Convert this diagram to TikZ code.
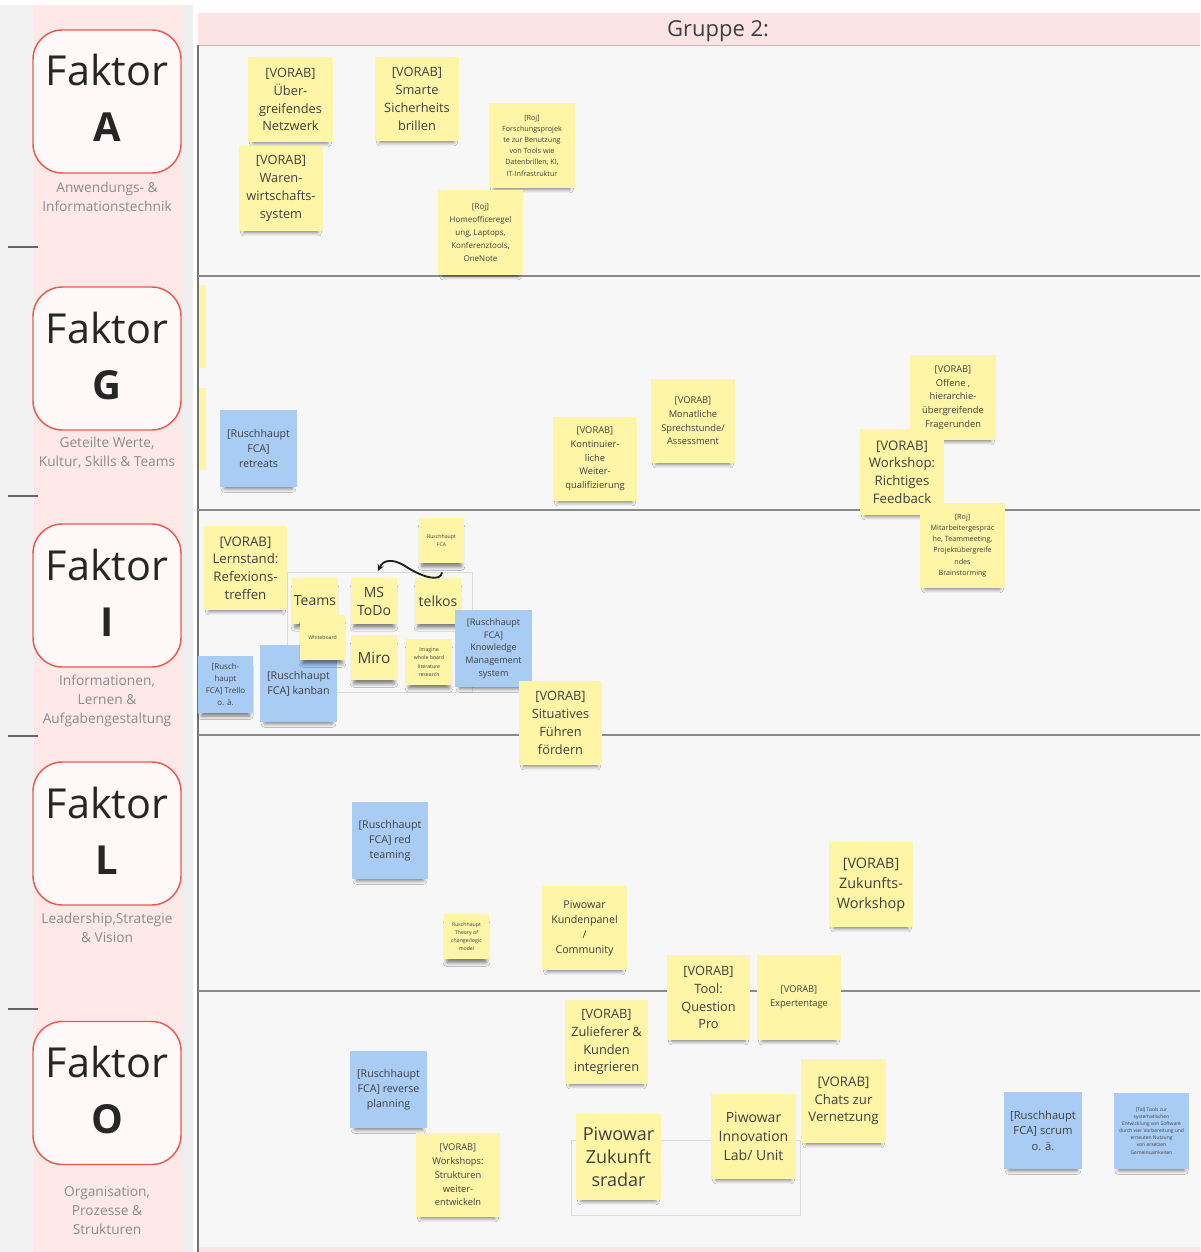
\documentclass[tikz,border=0pt]{standalone}
\usepackage{fontspec}
\setmainfont{Open Sans}
\usetikzlibrary{shadows.blur,arrows.meta,calc}
\definecolor{leftbg}{HTML}{F2F2F2}
\definecolor{pinkcol}{HTML}{FFE8E8}
\definecolor{gapbg}{HTML}{EFEFEF}
\definecolor{boardbg}{HTML}{F7F7F7}
\definecolor{headbg}{HTML}{FCE4E4}
\definecolor{faktorfill}{HTML}{FFF8F8}
\definecolor{faktordraw}{HTML}{EB5A4E}
\definecolor{subgray}{HTML}{8C8C8C}
\definecolor{linegray}{HTML}{8A8A8A}
\definecolor{noteY}{HTML}{FFF5A6}
\definecolor{noteB}{HTML}{A9CCF5}
\definecolor{notetext}{HTML}{404040}
\tikzset{
  wh/.style 2 args={minimum width=#1*0.75pt, minimum height=#2*0.75pt},
  notebase/.style={rectangle, inner sep=1pt, align=center, text=notetext,
    blur shadow={shadow xshift=0pt, shadow yshift=-5.5pt, shadow scale=0.88,
      shadow opacity=50, shadow blur radius=3pt}},
  yn/.style={notebase, fill=noteY},
  bn/.style={notebase, fill=noteB},
  fA/.style={font=\fontsize{9.6}{13.4}\selectfont},
  fL/.style={font=\fontsize{9.9}{13.3}\selectfont},
  fXL/.style={font=\fontsize{10.8}{15}\selectfont},
  fXXL/.style={font=\fontsize{13.5}{17.6}\selectfont},
  fM/.style={font=\fontsize{10.5}{13.5}\selectfont},
  fS/.style={font=\fontsize{7}{10.3}\selectfont},
  fT/.style={font=\fontsize{6}{9.7}\selectfont},
  fTT/.style={font=\fontsize{5.4}{8.4}\selectfont},
  fB/.style={font=\fontsize{8}{11.3}\selectfont},
  fBK/.style={font=\fontsize{6.8}{9.5}\selectfont},
  fBs/.style={font=\fontsize{6}{9}\selectfont},
  ftiny/.style={font=\fontsize{3.9}{6.2}\selectfont},
  fmini/.style={font=\fontsize{3.7}{5.3}\selectfont},
  fbox/.style={rectangle, rounded corners=22pt, fill=faktorfill, draw=faktordraw,
    line width=1.1pt, minimum width=148*0.75pt, minimum height=143*0.75pt},
  fword/.style={font=\fontsize{31}{36}\selectfont, text=black!85, inner sep=0pt, anchor=base},
  fletter/.style={font=\fontsize{30}{36}\selectfont\bfseries, text=black!85, inner sep=0pt, anchor=base},
  fsub/.style={font=\fontsize{10.3}{14.3}\selectfont, text=subgray, align=center, inner sep=0pt},
  rowline/.style={draw=linegray, line width=1.1pt},
  shortline/.style={draw=black!60, line width=0.9pt},
  conn/.style={draw=black!88, line width=1.4pt, -{Stealth[length=5pt,width=5pt]}},
  toolframe/.style={draw=black!14, line width=0.6pt}
}
\begin{document}
\begin{tikzpicture}[x=0.75pt,y=-0.75pt]
\useasboundingbox (0,0) rectangle (1200,1252);
% backgrounds
\fill[white] (0,0) rectangle (1200,1252);
\fill[leftbg] (0,5) rectangle (33,1252);
\fill[pinkcol] (33,5) rectangle (181,1252);
\fill[gapbg] (181,5) rectangle (193,1252);
\fill[boardbg] (198,45) rectangle (1200,1252);
\fill[headbg] (198,13) rectangle (1200,45);
\fill[headbg] (198,1247) rectangle (1200,1252);
\node[font=\fontsize{16.5}{20}\selectfont, text=black!75] (title) at (718,31) {Gruppe 2:};
\draw[draw=black!25, line width=0.6pt] (198,45) -- (1200,45);
\draw[draw=black!55, line width=1.4pt] (198,45) -- (198,1252);
% row lines
\foreach \yy in {276,510,735,991} {\draw[rowline] (198,\yy) -- (1200,\yy);}
\foreach \yy in {247,496,736,1009} {\draw[shortline] (8,\yy) -- (38,\yy);}
% Faktor boxes
\node[fbox] (fa) at (107,101.5) {};
\node[fword] at (107,86) {Faktor};
\node[fletter] at (107,142) {A};
\node[fsub] (sa) at (107,196.5) {Anwendungs- \&\\Informationstechnik};
\node[fbox] (fg) at (107,358.5) {};
\node[fword] at (107,343) {Faktor};
\node[fletter] at (107,399) {G};
\node[fsub] (sg) at (107,453) {Geteilte Werte,\\Kultur, Skills \& Teams};
\node[fbox] (fi) at (107,595.5) {};
\node[fword] at (107,580) {Faktor};
\node[fletter] at (107,636) {I};
\node[fsub] (si) at (107,701) {Informationen,\\Lernen \&\\Aufgabengestaltung};
\node[fbox] (fl) at (107,833.5) {};
\node[fword] at (107,818) {Faktor};
\node[fletter] at (107,874) {L};
\node[fsub] (sl) at (107,928) {Leadership,Strategie\\\& Vision};
\node[fbox] (fo) at (107,1093) {};
\node[fword] at (107,1077) {Faktor};
\node[fletter] at (107,1133) {O};
\node[fsub] (so) at (107,1210.5) {Organisation,\\Prozesse \&\\Strukturen};
% partial notes at left edge
\fill[noteY] (199,285) rectangle (206,368);
\fill[noteY] (199,388) rectangle (206,470);
% frames
\draw[toolframe] (287,572) rectangle (472,692);
\draw[toolframe] (571,1140) rectangle (800,1215);
% Row A
\node[yn, fA, wh={85}{85}] (ueber) at (290.5,99.5) {[VORAB]\\Über-\\greifendes\\Netzwerk};
\node[yn, fA, wh={84}{84}] (smarte) at (417,99) {[VORAB]\\Smarte\\Sicherheits\\brillen};
\node[yn, fA, wh={84}{85}] (waren) at (281,188.5) {[VORAB]\\Waren-\\wirtschafts-\\system};
\node[yn, fTT, wh={86}{85}] (forsch) at (532,145.5) {[Roj]\\Forschungsprojek\\te zur Benutzung\\von Tools wie\\Datenbrillen, KI,\\IT-Infrastruktur};
\node[yn, fT, wh={85}{85}] (homeoff) at (480.5,232.5) {[Roj]\\Homeofficeregel\\ung, Laptops,\\Konferenztools,\\OneNote};
% Row G
\node[bn, fB, wh={77}{77}] (retreats) at (258.5,448.5) {[Ruschhaupt\\FCA]\\retreats};
\node[yn, fS, wh={84}{84}] (kontinu) at (595,459) {[VORAB]\\Kontinuier-\\liche\\Weiter-\\qualifizierung};
\node[yn, fS, wh={84}{84}] (monat) at (693,421) {[VORAB]\\Monatliche\\Sprechstunde/\\Assessment};
\node[yn, fS, wh={86}{85}] (offene) at (953,397.5) {[VORAB]\\Offene ,\\hierarchie-\\übergreifende\\Fragerunden};
\node[yn, fL, wh={84}{86}] (feedback) at (902,472) {[VORAB]\\Workshop:\\Richtiges\\Feedback};
\node[yn, fTT, wh={85}{85}] (mitarb) at (962.5,545.5) {[Roj]\\Mitarbeitergespräc\\he, Teammeeting,\\Projektübergreife\\ndes\\Brainstorming};
% Row I
\node[yn, fL, wh={83}{84}] (lernstand) at (245.5,568) {[VORAB]\\Lernstand:\\Refexions-\\treffen};
\node[yn, ftiny, wh={45}{45}] (ruschtiny) at (441.5,540.5) {Ruschhaupt\\FCA};
\node[yn, fM, wh={46}{46}] (teams) at (315,601) {Teams};
\node[yn, fM, wh={46}{46}] (mstodo) at (374,601) {MS\\ToDo};
\node[yn, fM, wh={46}{46}] (telkos) at (438,601) {telkos};
\node[bn, fBs, wh={55}{57}] (trello) at (225.5,684.5) {[Rusch-\\haupt\\FCA] Trello\\o. ä.};
\node[bn, fB, wh={77}{77}] (kanban) at (298.5,683.5) {[Ruschhaupt\\FCA] kanban};
\node[yn, ftiny, wh={45}{45}] (whiteb) at (322.5,637.5) {Whiteboard};
\node[yn, fM, font=\fontsize{11.5}{14}\selectfont, wh={46}{45}] (miro) at (374,657.5) {Miro};
\node[yn, ftiny, wh={46}{46}] (imagine) at (429,662) {Imagine\\whole board\\literature\\research};
\node[bn, fBK, wh={77}{77}] (knowledge) at (493.5,648.5) {[Ruschhaupt\\FCA]\\Knowledge\\Management\\system};
\node[yn, fA, wh={83}{84}] (situativ) at (560.5,723) {[VORAB]\\Situatives\\Führen\\fördern};
\coordinate (curvemid) at (405,566);
\draw[conn] ([xshift=3pt,yshift=4pt]telkos.north) .. controls +(-1,9) and +(20,13) .. (curvemid)
  .. controls +(-13,-8) and +(5,-11) .. ([xshift=3pt,yshift=5pt]mstodo.north);
% Row L
\node[bn, fB, wh={76}{77}] (redteam) at (390,840.5) {[Ruschhaupt\\FCA] red\\teaming};
\node[yn, ftiny, wh={45}{45}] (theory) at (466.5,936.5) {Ruschhaupt\\Theory of\\change/logic\\model};
\node[yn, fB, wh={85}{84}] (kundenp) at (584.5,928) {Piwowar\\Kundenpanel\\/\\Community};
\node[yn, fXL, wh={84}{85}] (zukws) at (871,884.5) {[VORAB]\\Zukunfts-\\Workshop};
% Row O
\node[yn, fA, wh={83}{85}] (tool) at (708.5,997.5) {[VORAB]\\Tool:\\Question\\Pro};
\node[yn, fS, wh={84}{85}] (expert) at (799,997.5) {[VORAB]\\Expertentage};
\node[yn, fA, wh={83}{84}] (zuliefer) at (606.5,1042) {[VORAB]\\Zulieferer \&\\Kunden\\integrieren};
\node[bn, fB, wh={77}{77}] (reverse) at (388.5,1089.5) {[Ruschhaupt\\FCA] reverse\\planning};
\node[yn, fS, wh={84}{84}] (workshops) at (458,1175) {[VORAB]\\Workshops:\\Strukturen\\weiter-\\entwickeln};
\node[yn, fXXL, wh={85}{86}] (zukradar) at (618.5,1157) {Piwowar\\Zukunft\\sradar};
\node[yn, font=\fontsize{10.5}{14}\selectfont, wh={85}{85}] (innovation) at (753.5,1136.5) {Piwowar\\Innovation\\Lab/ Unit};
\node[yn, fL, wh={85}{84}] (chats) at (843.5,1101) {[VORAB]\\Chats zur\\Vernetzung};
\node[bn, font=\fontsize{8.4}{11.5}\selectfont, wh={78}{77}] (scrum) at (1043,1130.5) {[Ruschhaupt\\FCA] scrum\\o. ä.};
\node[bn, fmini, wh={75}{76}] (tal) at (1151.5,1131) {[Tal] Tools zur\\systematischen\\Entwicklung von Software\\durch vier Vorbereitung und\\erneuten Nutzung\\von ersetzen\\Gemeinsamkeiten};
\end{tikzpicture}
\end{document}
